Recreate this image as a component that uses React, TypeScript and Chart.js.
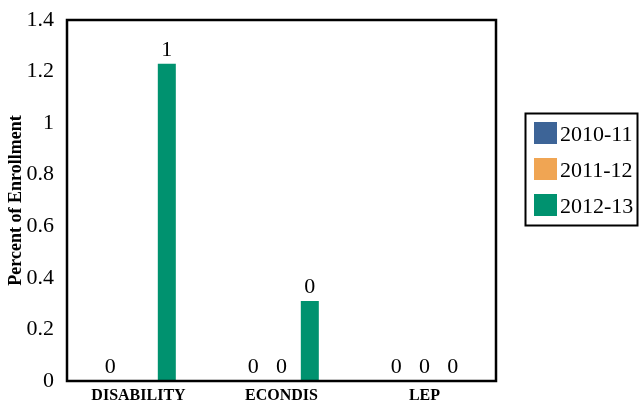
import React, { useEffect, useRef } from "react";
import { Chart, registerables } from "chart.js";

Chart.register(...registerables);

const categories = ["DISABILITY", "ECONDIS", "LEP"];
const seriesLabels = ["2010-11", "2011-12", "2012-13"];
const values2010 = [0, 0, 0];
const values2011: (number | null)[] = [null, 0, 0];
const values2012 = [1.23, 0.31, 0];
const seriesColors = ["#3d6497", "#f0a553", "#00926f"];
const yTicks = [0, 0.2, 0.4, 0.6, 0.8, 1, 1.2, 1.4];

const SERIF = "'Liberation Serif', 'Times New Roman', serif";

const framePlugin = {
  id: "frame",
  afterDatasetsDraw(chart: any) {
    const { ctx, chartArea } = chart;
    ctx.save();
    // data labels
    ctx.font = `22px ${SERIF}`;
    ctx.fillStyle = "#000";
    ctx.textAlign = "center";
    ctx.textBaseline = "alphabetic";
    chart.data.datasets.forEach((ds: any, i: number) => {
      const meta = chart.getDatasetMeta(i);
      meta.data.forEach((bar: any, j: number) => {
        const v = ds.data[j];
        if (v === null || v === undefined) return;
        ctx.fillText(String(Math.round(v)), bar.x, bar.y - 8);
      });
    });
    // frame
    ctx.strokeStyle = "#000";
    ctx.lineWidth = 2.5;
    ctx.strokeRect(chartArea.left, chartArea.top, chartArea.right - chartArea.left, chartArea.bottom - chartArea.top);
    // legend
    const lx = 525.5, ly = 113.5, lw = 112, lh = 112;
    ctx.lineWidth = 2;
    ctx.strokeRect(lx, ly, lw, lh);
    ctx.font = `22px ${SERIF}`;
    ctx.textAlign = "left";
    ctx.textBaseline = "alphabetic";
    chart.data.datasets.forEach((ds: any, i: number) => {
      const y = 122 + i * 36;
      ctx.fillStyle = ds.backgroundColor;
      ctx.fillRect(534, y, 23, 22);
      ctx.fillStyle = "#000";
      ctx.fillText(ds.label, 560, y + 19);
    });
    ctx.restore();
  },
};

export default function App() {
  const ref = useRef<HTMLCanvasElement>(null);
  useEffect(() => {
    document.body.style.margin = "0";
    const chart = new Chart(ref.current!, {
      type: "bar",
      data: {
        labels: categories,
        datasets: [
          { label: seriesLabels[0], data: values2010, backgroundColor: seriesColors[0] },
          { label: seriesLabels[1], data: values2011, backgroundColor: seriesColors[1] },
          { label: seriesLabels[2], data: values2012, backgroundColor: seriesColors[2] },
        ],
      },
      options: {
        animation: false,
        responsive: false,
        devicePixelRatio: 1,
        datasets: { bar: { categoryPercentage: 0.594, barPercentage: 0.636 } },
        layout: { padding: { left: 0, right: 143, top: 20, bottom: 0 } },
        plugins: { legend: { display: false }, tooltip: { enabled: false } },
        scales: {
          x: {
            grid: { display: false },
            border: { display: false },
            ticks: { color: "#000", font: { family: SERIF, size: 16, weight: "bold" }, padding: -3, maxRotation: 0 },
            afterFit: (s: any) => { s.height = 21; },
          },
          y: {
            min: 0,
            max: 1.4,
            grid: { display: false },
            border: { display: false },
            afterBuildTicks: (s: any) => { s.ticks = yTicks.map((v) => ({ value: v })); },
            ticks: { color: "#000", font: { family: SERIF, size: 22 }, padding: 5, callback: (v: any) => String(v) },
            title: {
              display: true,
              text: "Percent of Enrollment",
              color: "#000",
              font: { family: SERIF, size: 18, weight: "bold" },
              padding: { top: 6, bottom: 0 },
            },
            afterFit: (s: any) => { s.width = 67; },
          },
        },
      },
      plugins: [framePlugin],
    } as any);
    return () => chart.destroy();
  }, []);
  return (
    <div style={{ position: "relative", width: 639, height: 402, background: "#fff" }}>
      <canvas ref={ref} width={639} height={402} style={{ display: "block" }} />
    </div>
  );
}
